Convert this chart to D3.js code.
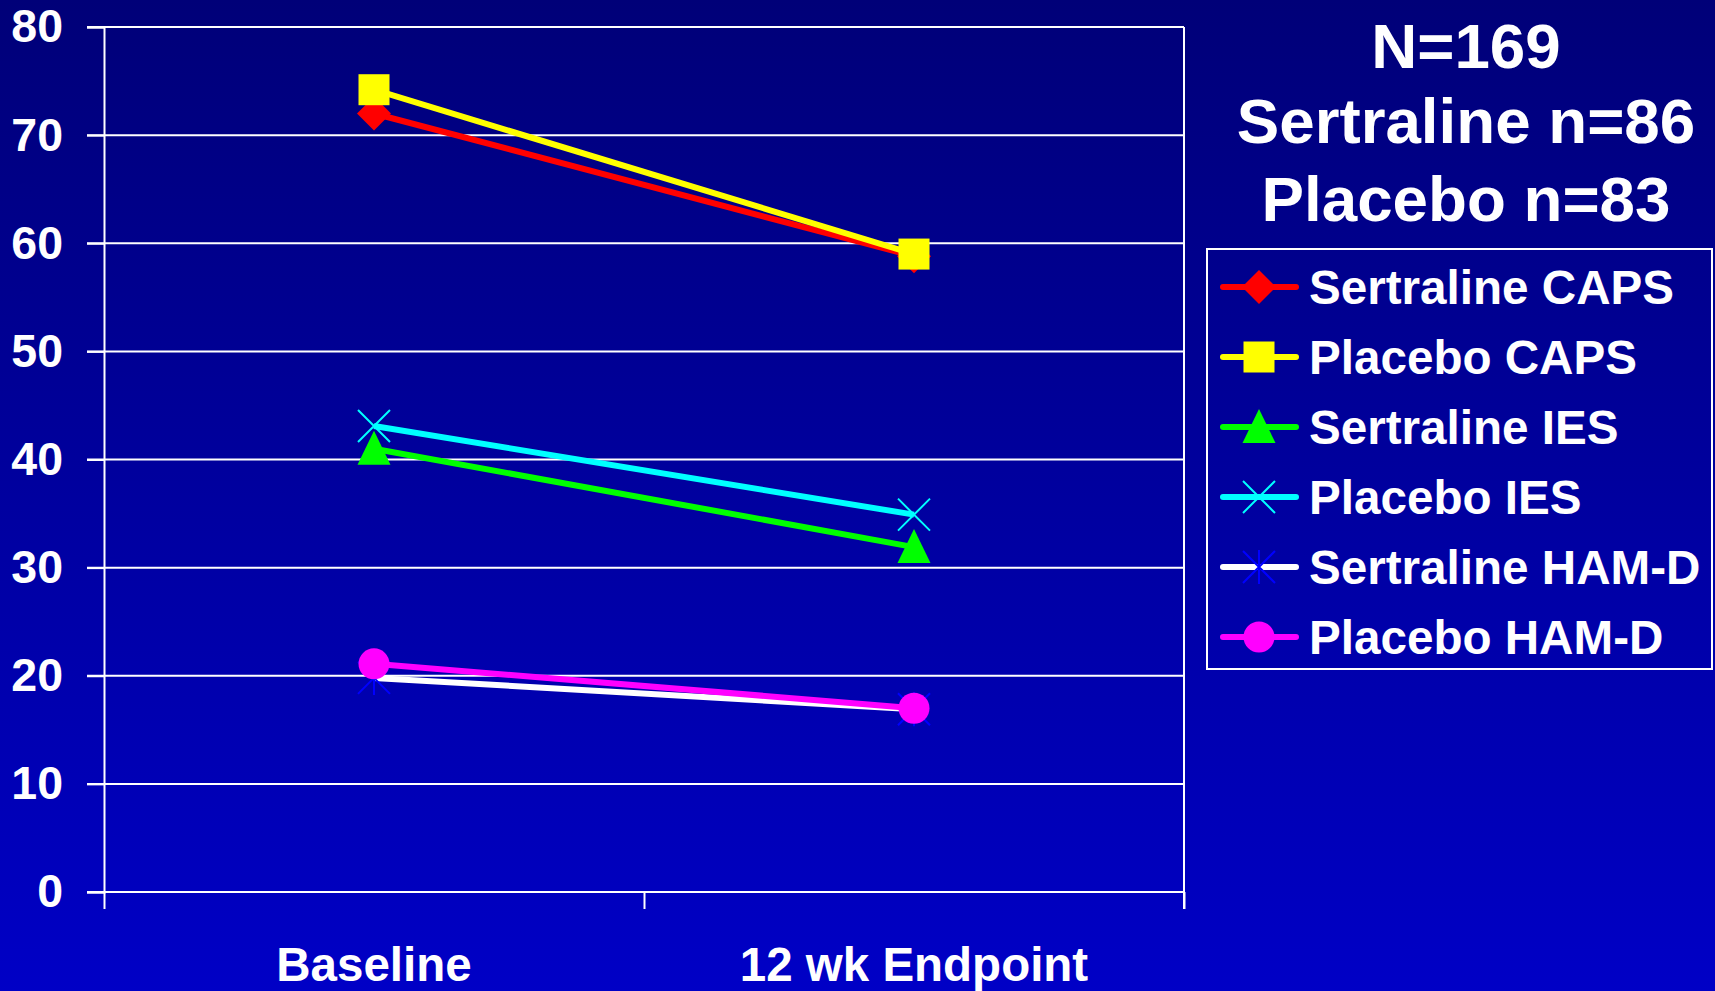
<!DOCTYPE html>
<html><head><meta charset="utf-8">
<script src="https://cdn.jsdelivr.net/npm/d3@7"></script>
<style>html,body{margin:0;padding:0;overflow:hidden;background:#000080}svg{display:block}</style>
</head><body>
<script>
const categories = ["Baseline", "12 wk Endpoint"];
const seriesNames = ["Sertraline CAPS", "Placebo CAPS", "Sertraline IES", "Placebo IES", "Sertraline HAM-D", "Placebo HAM-D"];
const sertralineCAPS = [72.0, 58.8];
const placeboCAPS = [74.2, 59.0];
const sertralineIES = [41.0, 31.9];
const placeboIES = [43.1, 34.9];
const sertralineHAMD = [19.8, 16.9];
const placeboHAMD = [21.1, 17.0];
const yTicks = [0, 10, 20, 30, 40, 50, 60, 70, 80];
const titleLines = ["N=169", "Sertraline n=86", "Placebo n=83"];

const W = 1715, H = 991;
const margin = {left: 104, right: W - 1184, top: 27, bottom: H - 892};
const font = "'Liberation Sans', Arial, sans-serif";

const seriesValues = [sertralineCAPS, placeboCAPS, sertralineIES, placeboIES, sertralineHAMD, placeboHAMD];
const styles = [
  {line: "#ff0000", marker: "diamond", fill: "#ff0000"},
  {line: "#ffff00", marker: "square", fill: "#ffff00"},
  {line: "#00ff00", marker: "triangle", fill: "#00ff00"},
  {line: "#00ffff", marker: "x", fill: "#00ffff"},
  {line: "#ffffff", marker: "asterisk", fill: "#0000ff"},
  {line: "#ff00ff", marker: "circle", fill: "#ff00ff"}
];

const svg = d3.select("body").append("svg").attr("width", W).attr("height", H);
const defs = svg.append("defs");
const grad = defs.append("linearGradient").attr("id", "bg").attr("x1", 0).attr("y1", 0).attr("x2", 0).attr("y2", 1);
grad.append("stop").attr("offset", "0%").attr("stop-color", "#000078");
grad.append("stop").attr("offset", "100%").attr("stop-color", "#0000c6");
svg.append("rect").attr("width", W).attr("height", H).attr("fill", "url(#bg)");

const x = d3.scaleBand().domain(categories).range([margin.left, W - margin.right]).padding(0);
const xb = d3.scaleLinear().domain([0, categories.length]).range([margin.left, W - margin.right]);
const y = d3.scaleLinear().domain([0, 80]).range([H - margin.bottom, margin.top]);
const cx = c => x(c) + x.bandwidth() / 2;

// gridlines
svg.append("g").selectAll("line").data(yTicks).join("line")
  .attr("x1", margin.left - 17).attr("x2", W - margin.right)
  .attr("y1", d => y(d)).attr("y2", d => y(d))
  .attr("stroke", "#fff").attr("stroke-width", 2);

// y axis
const yAxis = svg.append("g").attr("transform", `translate(${margin.left},0)`)
  .call(d3.axisLeft(y).tickValues(yTicks).tickSize(17).tickPadding(24));
yAxis.select(".domain").attr("stroke", "#fff").attr("stroke-width", 2);
yAxis.selectAll(".tick line").attr("stroke", "#fff").attr("stroke-width", 2);
yAxis.selectAll(".tick text").attr("fill", "#fff").attr("font-family", font)
  .attr("font-weight", "bold").attr("font-size", 46.5);

// right border
svg.append("line").attr("x1", W - margin.right).attr("x2", W - margin.right)
  .attr("y1", margin.top).attr("y2", H - margin.bottom + 17)
  .attr("stroke", "#fff").attr("stroke-width", 2);

// x axis
const xAxis = svg.append("g").attr("transform", `translate(0,${y(0)})`)
  .call(d3.axisBottom(xb).tickValues(d3.range(categories.length + 1)).tickSize(17).tickFormat(""));
xAxis.select(".domain").remove();
xAxis.selectAll(".tick line").attr("stroke", "#fff").attr("stroke-width", 2);
svg.append("g").selectAll("text").data(categories).join("text")
  .attr("x", d => cx(d)).attr("y", 981).attr("text-anchor", "middle")
  .attr("fill", "#fff").attr("font-family", font).attr("font-weight", "bold").attr("font-size", 47.5)
  .text(d => d);

function markerPath(type) {
  const p = d3.path();
  switch (type) {
    case "diamond": p.moveTo(0, -17); p.lineTo(17, 0); p.lineTo(0, 17); p.lineTo(-17, 0); p.closePath(); break;
    case "square": p.rect(-15.5, -15.5, 31, 31); break;
    case "triangle": p.moveTo(0, -18); p.lineTo(16.5, 16); p.lineTo(-16.5, 16); p.closePath(); break;
    case "circle": p.arc(0, 0, 15.5, 0, 2 * Math.PI); break;
    case "x": p.moveTo(-16, -16); p.lineTo(16, 16); p.moveTo(16, -16); p.lineTo(-16, 16); break;
    case "asterisk": p.moveTo(-16, -16); p.lineTo(16, 16); p.moveTo(16, -16); p.lineTo(-16, 16); p.moveTo(0, -17); p.lineTo(0, 17); break;
  }
  return p.toString();
}
function drawMarker(g, type, fill) {
  const stroked = (type === "x" || type === "asterisk");
  g.append("path").attr("d", markerPath(type))
    .attr("fill", stroked ? "none" : fill)
    .attr("stroke", stroked ? fill : "none")
    .attr("stroke-width", stroked ? 2 : 0);
}

const line = d3.line().x(d => cx(d.c)).y(d => y(d.v));
seriesValues.forEach((vals, i) => {
  const pts = categories.map((c, j) => ({c, v: vals[j]}));
  const g = svg.append("g");
  g.append("path").datum(pts).attr("d", line).attr("fill", "none")
    .attr("stroke", styles[i].line).attr("stroke-width", 6);
  pts.forEach(p => {
    const m = g.append("g").attr("transform", `translate(${cx(p.c)},${y(p.v)})`);
    drawMarker(m, styles[i].marker, styles[i].fill);
  });
});

// legend
const lg = svg.append("g");
lg.append("rect").attr("x", 1207).attr("y", 249).attr("width", 505).attr("height", 420)
  .attr("fill", "none").attr("stroke", "#fff").attr("stroke-width", 2);
seriesNames.forEach((name, i) => {
  const cy = 287 + i * 70;
  const row = lg.append("g");
  row.append("line").attr("x1", 1223).attr("x2", 1296).attr("y1", cy).attr("y2", cy)
    .attr("stroke", styles[i].line).attr("stroke-width", 6).attr("stroke-linecap", "round");
  const m = row.append("g").attr("transform", `translate(1259,${cy})`);
  drawMarker(m, styles[i].marker, styles[i].fill);
  row.append("text").attr("x", 1309).attr("y", cy + 17).attr("fill", "#fff")
    .attr("font-family", font).attr("font-weight", "bold").attr("font-size", 47.6).text(name);
});

// title
const titleY = [68, 143, 221];
svg.append("g").selectAll("text").data(titleLines).join("text")
  .attr("x", 1466).attr("y", (d, i) => titleY[i]).attr("text-anchor", "middle")
  .attr("fill", "#fff").attr("font-family", font).attr("font-weight", "bold").attr("font-size", 63.7)
  .text(d => d);
</script>
</body></html>
